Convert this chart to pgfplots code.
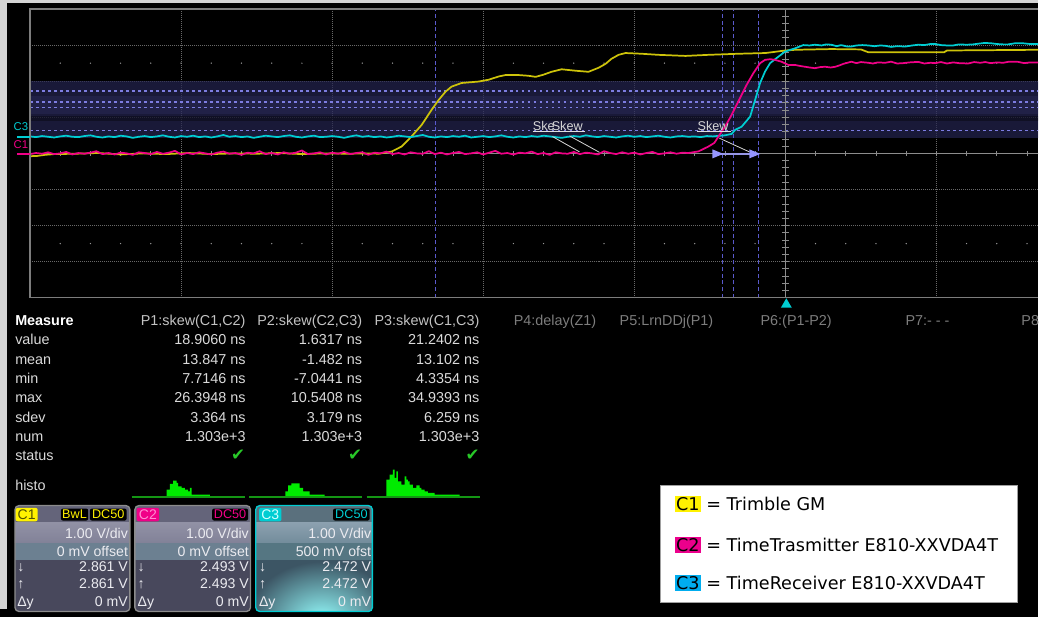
\documentclass[border=0pt]{standalone}
\usepackage{fontspec}
\setmainfont{Liberation Sans}
\newfontfamily\dejavu{DejaVu Sans}
\usepackage{pgfplots}
\pgfplotsset{compat=1.18}

\definecolor{cY}{RGB}{205,195,10}
\definecolor{cM}{RGB}{240,0,135}
\definecolor{cC}{RGB}{0,205,210}
\definecolor{gridc}{RGB}{105,105,105}
\definecolor{bordc}{RGB}{125,125,125}
\definecolor{bandc}{RGB}{37,37,80}
\definecolor{bandl}{RGB}{70,70,140}
\definecolor{curc}{RGB}{125,125,225}
\definecolor{vcurc}{RGB}{90,90,205}
\definecolor{centc}{RGB}{140,140,140}
\definecolor{dotc}{RGB}{150,150,150}
\definecolor{stripc}{RGB}{212,212,212}
\definecolor{shaftc}{RGB}{150,150,230}
\definecolor{arrowc}{RGB}{150,150,255}
\definecolor{skewc}{RGB}{215,215,215}
\definecolor{hdrc}{RGB}{195,195,195}
\definecolor{valc}{RGB}{218,218,218}
\definecolor{dimc}{RGB}{125,125,125}
\definecolor{checkc}{RGB}{40,200,40}
\definecolor{histg}{RGB}{0,235,0}
\definecolor{histb}{RGB}{20,150,20}
\definecolor{boxtxt}{RGB}{235,235,240}
\definecolor{bhdr}{RGB}{100,100,122}
\definecolor{bvd1}{RGB}{145,145,165}
\definecolor{bvd2}{RGB}{130,130,152}
\definecolor{bofs}{RGB}{108,128,145}
\definecolor{blow}{RGB}{72,72,92}
\definecolor{bbord}{RGB}{140,140,140}
\definecolor{thdr}{RGB}{90,112,125}
\definecolor{tvd1}{RGB}{140,160,175}
\definecolor{tvd2}{RGB}{115,140,155}
\definecolor{tofs}{RGB}{85,118,130}
\definecolor{tlow}{RGB}{60,85,100}
\definecolor{glow}{RGB}{150,255,255}
\definecolor{c1txt}{RGB}{80,80,0}
\definecolor{c2txt}{RGB}{255,140,210}
\definecolor{c3txt}{RGB}{210,255,255}
\definecolor{legbord}{RGB}{160,160,160}

\newcommand\mf{\fontsize{10.8}{12}\selectfont}
\newcommand\bxf{\fontsize{10.6}{12}\selectfont}

\begin{document}
\begin{tikzpicture}
% ---------- background ----------
\begin{scope}[x=0.75pt,y=-0.75pt]
\useasboundingbox (0,0) rectangle (1039,618);
\fill[black] (0,0) rectangle (1039,618);
\fill[stripc] (0,0) rectangle (7,610);
\fill[stripc] (0,0) rectangle (1039,3);
\end{scope}

% ---------- waveform grid ----------
\begin{axis}[at={(22.5pt,-223.5pt)}, anchor=south west, scale only axis,
  width=756.75pt, height=216.75pt,
  xmin=-5, xmax=1.6733, ymin=-4, ymax=4,
  xtick={-5,...,1}, ytick={-4,...,4}, xticklabels={}, yticklabels={},
  major tick length=0pt, grid=major,
  major grid style={gridc, line width=0.6pt, dash pattern=on 0.75pt off 0.75pt},
  axis line style={draw=none}, clip=true]

% cursor band
\fill[bandc, fill opacity=0.7] (axis cs:-5,2.007) rectangle (axis cs:1.7,0.429);
\fill[bandl, fill opacity=0.18] (axis cs:-5,1.59) rectangle (axis cs:1.7,1.09);
\fill[black, fill opacity=0.35] (axis cs:-5,1.04) rectangle (axis cs:1.7,0.90);
\pgfplotsinvokeforeach{1.730,1.426,1.260,0.623}{
  \draw[curc, line width=0.9pt, dash pattern=on 2.2pt off 2.3pt] (axis cs:-5,#1) -- (axis cs:1.7,#1);}
% vertical cursors
\pgfplotsinvokeforeach{-2.315,-0.417,-0.344,-0.179}{
  \draw[vcurc, line width=0.9pt, dash pattern=on 3pt off 2pt] (axis cs:#1,-4) -- (axis cs:#1,4);}
% centre axes with ticks
\draw[centc, line width=0.7pt] (axis cs:-5,0) -- (axis cs:1.7,0);
\draw[centc, line width=0.7pt] (axis cs:0,-4) -- (axis cs:0,4);
\pgfplotsinvokeforeach{-4.8,-4.6,...,1.61}{
  \draw[centc, line width=0.6pt] (axis cs:#1,-0.07) -- (axis cs:#1,0.07);
  \fill[dotc] (axis cs:#1,2.5) circle[radius=0.55pt];
  \fill[dotc] (axis cs:#1,-2.5) circle[radius=0.55pt];}
\pgfplotsinvokeforeach{-3.8,-3.6,...,3.81}{
  \draw[centc, line width=0.6pt] (axis cs:-0.022,#1) -- (axis cs:0.022,#1);}

% C1 Trimble GM
\addplot[cY, line width=1.3pt, line join=round] coordinates {
(-5.007,-0.08) (-4.95,-0.07) (-4.90,-0.04) (-4.84,-0.02) (-4.70,-0.01) (-4.55,0.01)
(-4.40,-0.03) (-4.25,0.00) (-4.10,-0.02) (-3.95,0.01) (-3.80,-0.02) (-3.65,0.00)
(-3.50,-0.01) (-3.35,0.01) (-3.20,-0.02) (-3.05,0.00) (-2.90,-0.01) (-2.75,0.00)
(-2.692,-0.01) (-2.606,0.05) (-2.540,0.19) (-2.474,0.47) (-2.407,0.79) (-2.341,1.21)
(-2.295,1.48) (-2.249,1.71) (-2.209,1.85) (-2.143,1.95) (-2.030,1.99) (-1.964,2.04)
(-1.898,2.13) (-1.852,2.17) (-1.766,2.17) (-1.700,2.15) (-1.653,2.12) (-1.601,2.18)
(-1.548,2.26) (-1.481,2.33) (-1.435,2.31) (-1.389,2.29) (-1.303,2.26) (-1.237,2.37)
(-1.190,2.48) (-1.151,2.62) (-1.104,2.73) (-1.058,2.78) (-0.952,2.76) (-0.840,2.73)
(-0.661,2.70) (-0.509,2.73) (-0.311,2.76) (-0.132,2.78) (0,2.85) (0.066,2.87)
(0.304,2.89) (0.50,2.88) (0.55,2.80) (1.05,2.80) (1.07,2.85) (1.673,2.87)};

% C3 TimeReceiver
\addplot[cC, line width=1.3pt, line join=round] coordinates {
(-5.00,0.47) (-4.96,0.45) (-4.92,0.48) (-4.88,0.46) (-4.84,0.44) (-4.80,0.47) (-4.76,0.49) (-4.72,0.46) (-4.68,0.45) (-4.64,0.48)
(-4.60,0.50) (-4.56,0.46) (-4.52,0.44) (-4.48,0.47) (-4.44,0.45) (-4.40,0.49) (-4.36,0.47) (-4.32,0.43) (-4.28,0.46) (-4.24,0.48)
(-4.20,0.45) (-4.16,0.47) (-4.12,0.50) (-4.08,0.46) (-4.04,0.44) (-4.00,0.48) (-3.96,0.46) (-3.92,0.49) (-3.88,0.45) (-3.84,0.47)
(-3.80,0.44) (-3.76,0.47) (-3.72,0.51) (-3.68,0.46) (-3.64,0.48) (-3.60,0.45) (-3.56,0.47) (-3.52,0.43) (-3.48,0.46) (-3.44,0.49)
(-3.40,0.47) (-3.36,0.45) (-3.32,0.48) (-3.28,0.50) (-3.24,0.46) (-3.20,0.44) (-3.16,0.47) (-3.12,0.49) (-3.08,0.45) (-3.04,0.46)
(-3.00,0.48) (-2.96,0.46) (-2.92,0.43) (-2.88,0.47) (-2.84,0.50) (-2.80,0.46) (-2.76,0.48) (-2.72,0.45) (-2.68,0.47) (-2.64,0.44)
(-2.60,0.46) (-2.56,0.49) (-2.52,0.47) (-2.48,0.45) (-2.44,0.48) (-2.40,0.51) (-2.36,0.46) (-2.32,0.44) (-2.28,0.47) (-2.24,0.45)
(-2.20,0.48) (-2.16,0.46) (-2.12,0.49) (-2.08,0.44) (-2.04,0.46) (-2.00,0.48) (-1.96,0.45) (-1.92,0.47) (-1.88,0.50) (-1.84,0.46)
(-1.80,0.44) (-1.76,0.47) (-1.72,0.45) (-1.68,0.48) (-1.64,0.46) (-1.60,0.49) (-1.56,0.47) (-1.52,0.45) (-1.48,0.43) (-1.44,0.46)
(-1.40,0.48) (-1.36,0.46) (-1.32,0.50) (-1.28,0.47) (-1.24,0.45) (-1.20,0.48) (-1.16,0.46) (-1.12,0.44) (-1.08,0.47) (-1.04,0.49)
(-1.00,0.46) (-0.96,0.48) (-0.92,0.45) (-0.88,0.47) (-0.84,0.49) (-0.80,0.46) (-0.76,0.44) (-0.72,0.47) (-0.68,0.48) (-0.64,0.46)
(-0.60,0.47) (-0.56,0.45) (-0.52,0.48) (-0.48,0.47)
(-0.443,0.485) (-0.40,0.50) (-0.355,0.54) (-0.333,0.65) (-0.289,0.74) (-0.233,1.02)
(-0.200,1.48) (-0.167,1.95) (-0.134,2.27) (-0.101,2.50) (-0.058,2.64) (-0.002,2.82)
(0.064,2.91) (0.119,3.00) (0.16,2.99) (0.196,3.01) (0.24,2.99) (0.27,3.02) (0.304,3.01)
(0.34,2.97) (0.37,3.00) (0.41,2.96) (0.437,2.96) (0.47,2.99) (0.51,3.00) (0.549,2.99)
(0.59,2.97) (0.63,2.99) (0.661,2.98) (0.70,2.95) (0.74,2.97) (0.794,2.96) (0.84,2.99)
(0.880,3.01) (0.92,3.00) (0.96,3.03) (0.992,3.03) (1.03,3.00) (1.07,2.99) (1.111,2.99)
(1.15,3.02) (1.20,3.01) (1.243,3.02) (1.28,3.04) (1.32,3.06) (1.362,3.05) (1.40,3.03)
(1.44,3.02) (1.475,3.02) (1.52,3.05) (1.574,3.05) (1.62,3.03) (1.673,3.03)};

% C2 TimeTrasmitter
\addplot[cM, line width=1.3pt, line join=round] coordinates {
(-5.00,-0.02) (-4.96,0.01) (-4.92,-0.01) (-4.88,0.03) (-4.84,-0.02) (-4.80,0.00) (-4.76,0.04) (-4.72,-0.03) (-4.68,0.01) (-4.64,-0.01)
(-4.60,0.02) (-4.56,0.06) (-4.52,-0.02) (-4.48,0.01) (-4.44,-0.03) (-4.40,0.02) (-4.36,0.00) (-4.32,-0.04) (-4.28,0.03) (-4.24,0.01)
(-4.20,-0.02) (-4.16,0.04) (-4.12,-0.01) (-4.08,0.02) (-4.04,0.07) (-4.00,-0.03) (-3.96,0.01) (-3.92,-0.02) (-3.88,0.03) (-3.84,0.00)
(-3.80,-0.03) (-3.76,0.02) (-3.72,0.05) (-3.68,-0.01) (-3.64,0.01) (-3.60,-0.04) (-3.56,0.02) (-3.52,0.00) (-3.48,0.06) (-3.44,-0.02)
(-3.40,0.01) (-3.36,-0.03) (-3.32,0.03) (-3.28,-0.01) (-3.24,0.02) (-3.20,0.08) (-3.16,-0.02) (-3.12,0.00) (-3.08,0.03) (-3.04,-0.03)
(-3.00,0.02) (-2.96,-0.01) (-2.92,0.04) (-2.88,-0.02) (-2.84,0.01) (-2.80,0.03) (-2.76,-0.04) (-2.72,0.02) (-2.68,0.00) (-2.64,0.05)
(-2.60,-0.02) (-2.56,0.01) (-2.52,-0.03) (-2.48,0.03) (-2.44,0.00) (-2.40,-0.01) (-2.36,0.06) (-2.32,-0.02) (-2.28,0.02) (-2.24,-0.03)
(-2.20,0.01) (-2.16,0.04) (-2.12,-0.02) (-2.08,0.00) (-2.04,0.03) (-2.00,-0.03) (-1.96,0.02) (-1.92,0.07) (-1.88,-0.01) (-1.84,0.01)
(-1.80,-0.03) (-1.76,0.02) (-1.72,0.00) (-1.68,0.05) (-1.64,-0.02) (-1.60,0.01) (-1.56,-0.04) (-1.52,0.03) (-1.48,0.00) (-1.44,-0.01)
(-1.40,0.04) (-1.36,-0.02) (-1.32,0.02) (-1.28,0.00) (-1.24,-0.03) (-1.20,0.06) (-1.16,0.01) (-1.12,-0.02) (-1.08,0.03) (-1.04,-0.01)
(-1.00,0.02) (-0.96,-0.03) (-0.92,0.01) (-0.88,0.04) (-0.84,-0.02) (-0.80,0.00) (-0.76,0.03) (-0.72,-0.01) (-0.68,0.02)
(-0.642,0.01) (-0.575,0.055) (-0.509,0.19) (-0.470,0.29) (-0.443,0.465) (-0.399,0.74)
(-0.355,1.07) (-0.311,1.44) (-0.256,1.90) (-0.212,2.22) (-0.167,2.50) (-0.134,2.59)
(-0.10,2.61) (-0.068,2.59) (-0.026,2.54) (0.020,2.45) (0.064,2.45) (0.10,2.42) (0.130,2.40)
(0.16,2.38) (0.196,2.36) (0.23,2.39) (0.263,2.40) (0.30,2.38) (0.331,2.40) (0.36,2.44)
(0.384,2.48) (0.437,2.54) (0.47,2.50) (0.50,2.53) (0.549,2.51) (0.58,2.49) (0.61,2.52)
(0.661,2.51) (0.70,2.54) (0.74,2.49) (0.780,2.50) (0.82,2.52) (0.880,2.535) (0.92,2.49)
(0.96,2.51) (0.992,2.50) (1.03,2.53) (1.07,2.49) (1.111,2.52) (1.15,2.50) (1.210,2.49)
(1.25,2.53) (1.29,2.51) (1.323,2.53) (1.36,2.50) (1.40,2.52) (1.442,2.51) (1.48,2.54)
(1.541,2.535) (1.58,2.50) (1.62,2.52) (1.673,2.515)};
\end{axis}

% ---------- histograms ----------
\begin{axis}[at={(90pt,-375pt)}, anchor=south west, scale only axis,
  width=277.5pt, height=30pt, xmin=120, xmax=490, ymin=-2.7, ymax=37.3,
  hide axis, clip=false]
\addplot[fill=histg, draw=none, const plot] coordinates {
(166.7,7.3) (170,13) (173.3,16.3) (176.7,14) (178.3,10.6) (181.7,9) (185,7.3)
(188.3,5.6) (190,9) (191.7,2.3) (210,2.3)} \closedcycle;
\addplot[fill=histg, draw=none, const plot] coordinates {
(285.7,5.6) (288.3,11.6) (291.7,13.6) (300,9) (303.3,5.6) (310,2.3) (325,2.3)} \closedcycle;
\addplot[fill=histg, draw=none, const plot] coordinates {
(386.7,17.3) (390,22.3) (393.3,27.3) (395,19) (396.7,25.6) (398.3,15.6) (401.7,12.3)
(405,20.6) (406.7,17.3) (408.3,15.6) (410,12.3) (413.3,9) (416.7,11.6) (420,9)
(421.7,7.3) (425,5.6) (428.3,4) (435,2.3) (460,2.3)} \closedcycle;
\addplot[histb, line width=1.5pt] coordinates {(131.7,0) (245,0)};
\addplot[histb, line width=1.5pt] coordinates {(249,0) (362,0)};
\addplot[histb, line width=1.5pt] coordinates {(367,0) (480,0)};
\end{axis}

% ---------- overlays ----------
\begin{scope}[x=0.75pt,y=-0.75pt]
% grid border
\draw[bordc, line width=0.8pt] (1039,9) -- (30,9) -- (30,298) -- (1039,298);
% channel markers
\node[text=cC, font=\fontsize{8.5}{9}\selectfont, inner sep=0] at (21,126.5) {C3};
\draw[cC, line width=1.5pt] (17,136.7) -- (30,136.7);
\node[text=cM, font=\fontsize{8.5}{9}\selectfont, inner sep=0] at (21,145) {C1};
\draw[cM, line width=1.5pt] (17,154) -- (30,154);
% skew annotations
\draw[skewc, line width=0.6pt] (553,136.7) -- (580,152);
\draw[skewc, line width=0.6pt] (570,136) -- (600,152.5);
\draw[skewc, line width=0.6pt] (720,138.3) -- (750,152);
\draw[skewc!80, line width=0.8pt] (533,132) -- (585,132);
\draw[skewc!80, line width=0.8pt] (698,132) -- (732,132);
\node[text=skewc, font=\fontsize{9.5}{10}\selectfont, anchor=base west, inner sep=0] at (533,131) {Ske};
\node[text=skewc, font=\fontsize{9.5}{10}\selectfont, anchor=base west, inner sep=0] at (552,131) {Skew};
\node[text=skewc, font=\fontsize{9.5}{10}\selectfont, anchor=base west, inner sep=0] at (698,131) {Skew};
\draw[shaftc, line width=1pt] (718,154) -- (752,154);
\fill[arrowc] (713,149.5) -- (724,154) -- (713,158.5) -- cycle;
\fill[arrowc] (750,149.5) -- (761,154) -- (750,158.5) -- cycle;
% trigger marker
\fill[cC] (787,298.5) -- (781.5,308) -- (792.5,308) -- cycle;

% measurement table
\node[anchor=base west, inner sep=0, text=white, font=\mf\bfseries] at (15,326) {Measure};
\foreach \lab/\yy in {value/345, mean/364.4, min/383.7, max/403.1, sdev/422.5, num/441.9, status/461.3, histo/491}
  \node[anchor=base west, inner sep=0, text=valc, font=\mf] at (15,\yy) {\lab};
\node[anchor=base east, inner sep=0, text=hdrc, font=\mf] at (246,326) {P1:skew(C1,C2)};
\node[anchor=base east, inner sep=0, text=hdrc, font=\mf] at (362.7,326) {P2:skew(C2,C3)};
\node[anchor=base east, inner sep=0, text=hdrc, font=\mf] at (480,326) {P3:skew(C1,C3)};
\node[anchor=base west, inner sep=0, text=dimc, font=\mf] at (514,326) {P4:delay(Z1)};
\node[anchor=base west, inner sep=0, text=dimc, font=\mf] at (620,326) {P5:LrnDDj(P1)};
\node[anchor=base west, inner sep=0, text=dimc, font=\mf] at (761,326) {P6:(P1-P2)};
\node[anchor=base west, inner sep=0, text=dimc, font=\mf] at (906,326) {P7:- - -};
\node[anchor=base west, inner sep=0, text=dimc, font=\mf] at (1022,326) {P8};
\foreach \a/\b/\c/\yy in {18.9060 ns/1.6317 ns/21.2402 ns/345,
                          13.847 ns/-1.482 ns/13.102 ns/364.4,
                          7.7146 ns/-7.0441 ns/4.3354 ns/383.7,
                          26.3948 ns/10.5408 ns/34.9393 ns/403.1,
                          3.364 ns/3.179 ns/6.259 ns/422.5,
                          1.303e+3/1.303e+3/1.303e+3/441.9}{
  \node[anchor=base east, inner sep=0, text=valc, font=\mf] at (246,\yy) {\a};
  \node[anchor=base east, inner sep=0, text=valc, font=\mf] at (362.7,\yy) {\b};
  \node[anchor=base east, inner sep=0, text=valc, font=\mf] at (480,\yy) {\c};}
\foreach \xx in {238.3,355.3,473}
  \node[text=checkc, font=\dejavu\fontsize{12.5}{13}\selectfont, inner sep=0] at (\xx,456) {✔};

% channel boxes
\foreach \xa/\xb/\hc/\vca/\vcb/\oc/\lc in {15/130/bhdr/bvd1/bvd2/bofs/blow, 135/250.7/bhdr/bvd1/bvd2/bofs/blow, 256/372.7/thdr/tvd1/tvd2/tofs/tlow}{
  \begin{scope}
  \clip[rounded corners=3pt] (\xa,506) rectangle (\xb,612);
  \fill[\hc] (\xa,506) rectangle (\xb,523);
  \shade[top color=\vca, bottom color=\vcb] (\xa,523) rectangle (\xb,543);
  \fill[\oc] (\xa,543) rectangle (\xb,560);
  \fill[\lc] (\xa,560) rectangle (\xb,612);
  \end{scope}}
\begin{scope}
\clip[rounded corners=3pt] (256,506) rectangle (372.7,612);
\shade[inner color=glow, outer color=tlow] (322,622) ellipse [x radius=75, y radius=60];
\end{scope}
\draw[bbord, line width=1pt, rounded corners=3pt] (15,506) rectangle (130,612);
\draw[bbord, line width=1pt, rounded corners=3pt] (135,506) rectangle (250.7,612);
\draw[cC, line width=1pt, rounded corners=3pt] (256,506) rectangle (372.7,612);
% badges
\fill[yellow, rounded corners=1.5pt] (15.7,508.3) rectangle (37.7,521.7);
\node[text=c1txt, font=\fontsize{10.5}{11}\selectfont, inner sep=0] at (26.7,515) {C1};
\fill[black, rounded corners=1.5pt] (61,509) rectangle (88.3,521);
\node[text=yellow, font=\fontsize{9.5}{10}\selectfont, inner sep=0] at (74.6,515) {BwL};
\fill[black, rounded corners=1.5pt] (90,509) rectangle (126.7,521);
\node[text=yellow, font=\fontsize{9.5}{10}\selectfont, inner sep=0] at (108.3,515) {DC50};
\fill[cM, rounded corners=1.5pt] (136.7,508.3) rectangle (159.3,521.7);
\node[text=c2txt, font=\fontsize{10.5}{11}\selectfont, inner sep=0] at (148,515) {C2};
\fill[black, rounded corners=1.5pt] (212.3,509) rectangle (248.3,521);
\node[text=cM, font=\fontsize{9.5}{10}\selectfont, inner sep=0] at (230.3,515) {DC50};
\fill[cC, rounded corners=1.5pt] (259.3,508.3) rectangle (281.7,521.7);
\node[text=c3txt, font=\fontsize{10.5}{11}\selectfont, inner sep=0] at (270.5,515) {C3};
\fill[black, rounded corners=1.5pt] (333.3,509) rectangle (370,521);
\node[text=cC, font=\fontsize{9.5}{10}\selectfont, inner sep=0] at (351.7,515) {DC50};
% box texts
\foreach \xl/\xr/\va/\vb/\vc in {17/128.3/0 mV offset/2.861 V/2.861 V, 137.5/249.3/0 mV offset/2.493 V/2.493 V, 259/371.7/500 mV ofst/2.472 V/2.472 V}{
  \node[anchor=base east, inner sep=0, text=boxtxt, font=\bxf] at (\xr,539.3) {1.00 V/div};
  \node[anchor=base east, inner sep=0, text=boxtxt, font=\bxf] at (\xr,557) {\va};
  \node[anchor=base east, inner sep=0, text=boxtxt, font=\bxf] at (\xr,572.3) {\vb};
  \node[anchor=base east, inner sep=0, text=boxtxt, font=\bxf] at (\xr,589) {\vc};
  \node[anchor=base east, inner sep=0, text=boxtxt, font=\bxf] at (\xr,607.3) {0 mV};
  \node[anchor=base west, inner sep=0, text=boxtxt, font=\bxf] at (\xl,572.3) {↓};
  \node[anchor=base west, inner sep=0, text=boxtxt, font=\bxf] at (\xl,589) {↑};
  \node[anchor=base west, inner sep=0, text=boxtxt, font=\bxf] at (\xl,607.3) {Δy};}

% legend box
\filldraw[fill=white, draw=legbord, line width=0.75pt] (661,486) rectangle (1018.3,602.7);
\setlength{\fboxsep}{1pt}
\node[anchor=base west, inner sep=0, font=\dejavu\fontsize{13.2}{14}\selectfont] at (675,511) {\colorbox{yellow}{C1} = Trimble GM};
\node[anchor=base west, inner sep=0, font=\dejavu\fontsize{13.2}{14}\selectfont] at (675,551.7) {\colorbox{magenta}{C2} = TimeTrasmitter E810-XXVDA4T};
\node[anchor=base west, inner sep=0, font=\dejavu\fontsize{13.2}{14}\selectfont] at (675,590) {\colorbox{cyan}{C3} = TimeReceiver E810-XXVDA4T};
\end{scope}
\end{tikzpicture}
\end{document}
